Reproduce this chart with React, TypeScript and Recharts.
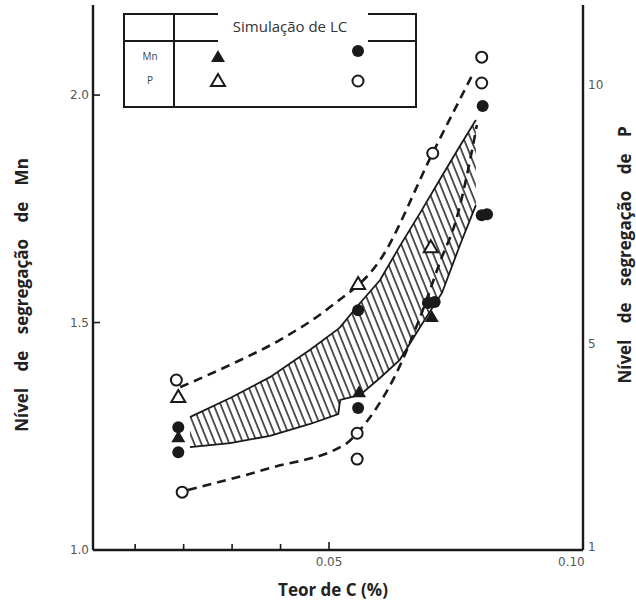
import React from 'react';
import {
  ComposedChart,
  Area,
  Line,
  Scatter,
  XAxis,
  YAxis,
  Label,
} from 'recharts';

// carbon content ticks (%)
const xTicks = [0.01, 0.02, 0.03, 0.04, 0.05, 0.1];
const mnTicks = [1.0, 1.5, 2.0];
const pTicks = [1, 5, 10];

// Mn segregation (left axis)
const mnCircles = [
  { x: 0.0189, y: 1.27 },
  { x: 0.0189, y: 1.215 },
  { x: 0.056, y: 1.527 },
  { x: 0.056, y: 1.312 },
  { x: 0.0704, y: 1.543 },
  { x: 0.0718, y: 1.545 },
  { x: 0.0815, y: 1.736 },
  { x: 0.0826, y: 1.738 },
  { x: 0.0817, y: 1.976 },
];
const mnTriangles = [
  { x: 0.0189, y: 1.248 },
  { x: 0.0562, y: 1.347 },
  { x: 0.0712, y: 1.512 },
];

// P segregation (right axis)
const pCircles = [
  { x: 0.0185, y: 4.29 },
  { x: 0.0197, y: 2.12 },
  { x: 0.0558, y: 3.26 },
  { x: 0.0558, y: 2.76 },
  { x: 0.0714, y: 8.68 },
  { x: 0.0815, y: 10.54 },
  { x: 0.0815, y: 10.04 },
];
const pTriangles = [
  { x: 0.0189, y: 3.96 },
  { x: 0.056, y: 6.15 },
  { x: 0.071, y: 6.86 },
];

// hatched band (simulation range, Mn units)
const band = [
  { x: 0.0213, lo: 1.226, hi: 1.292 },
  { x: 0.0296, lo: 1.235, hi: 1.334 },
  { x: 0.0378, lo: 1.251, hi: 1.38 },
  { x: 0.0461, lo: 1.277, hi: 1.44 },
  { x: 0.0519, lo: 1.299, hi: 1.486 },
  { x: 0.0523, lo: 1.33, hi: 1.49 },
  { x: 0.0564, lo: 1.341, hi: 1.543 },
  { x: 0.0605, lo: 1.378, hi: 1.593 },
  { x: 0.0646, lo: 1.418, hi: 1.668 },
  { x: 0.0688, lo: 1.49, hi: 1.741 },
  { x: 0.0733, lo: 1.565, hi: 1.822 },
  { x: 0.077, lo: 1.67, hi: 1.888 },
  { x: 0.0803, lo: 1.758, hi: 1.945 },
];

// dashed envelopes
const upperDash = [
  { x: 0.0193, y: 1.358 },
  { x: 0.0296, y: 1.407 },
  { x: 0.0399, y: 1.462 },
  { x: 0.0502, y: 1.534 },
  { x: 0.0605, y: 1.637 },
  { x: 0.0714, y: 1.873 },
  { x: 0.0799, y: 2.051 },
];
const lowerDash = [
  { x: 0.0209, y: 1.132 },
  { x: 0.0378, y: 1.18 },
  { x: 0.0537, y: 1.235 },
  { x: 0.0558, y: 1.257 },
  { x: 0.0599, y: 1.314 },
  { x: 0.0632, y: 1.374 },
  { x: 0.0688, y: 1.512 },
  { x: 0.0729, y: 1.633 },
  { x: 0.0764, y: 1.732 },
  { x: 0.0791, y: 1.857 },
  { x: 0.0805, y: 1.934 },
];

const INK = '#1a1a1a';
const TICK_FONT = 'DejaVu Sans';
const TITLE_FONT = 'Open Sans';

const FilledCircle = (p: any) => <circle cx={p.cx} cy={p.cy} r={6} fill={INK} />;
const OpenCircle = (p: any) => (
  <circle cx={p.cx} cy={p.cy} r={5.5} fill="#fff" stroke={INK} strokeWidth={2} />
);
const triPts = (cx: number, cy: number) =>
  `${cx},${cy - 7} ${cx - 7},${cy + 5} ${cx + 7},${cy + 5}`;
const FilledTriangle = (p: any) => <polygon points={triPts(p.cx, p.cy)} fill={INK} />;
const OpenTriangle = (p: any) => (
  <polygon points={triPts(p.cx, p.cy)} fill="#fff" stroke={INK} strokeWidth={2} />
);

const XTick = ({ x, y, payload }: any) => {
  const v = payload.value;
  const label = v === 0.05 ? '0.05' : v === 0.1 ? '0.10' : '';
  return (
    <g>
      {v < 0.06 && <line x1={x} y1={y} x2={x} y2={y - (v === 0.05 ? 8 : 6)} stroke={INK} strokeWidth={1.6} />}
      <text x={x} y={y + 16} textAnchor="middle" fontSize={12} fontFamily={TICK_FONT} fill="#555">
        {label}
      </text>
    </g>
  );
};

const LeftTick = ({ x, y, payload }: any) => (
  <g>
    {payload.value > 1 && <line x1={x} y1={y} x2={x + 7} y2={y} stroke={INK} strokeWidth={1.6} />}
    <text x={x - 4} y={y} dy="0.35em" textAnchor="end" fontSize={12} fontFamily={TICK_FONT} fill="#555">
      {payload.value.toFixed(1)}
    </text>
  </g>
);

const RightTick = ({ x, y, payload }: any) => (
  <text x={x + 5} y={y} dy={payload.value === 1 ? '0.1em' : '0.35em'} textAnchor="start" fontSize={12} fontFamily={TICK_FONT} fill="#555">
    {payload.value}
  </text>
);

const LegendTable = () => (
  <svg width={636} height={603} style={{ position: 'absolute', left: 0, top: 0, pointerEvents: 'none' }}>
    <rect x={124} y={14} width={292} height={93} fill="#fff" stroke={INK} strokeWidth={2} />
    <line x1={174} y1={14} x2={174} y2={107} stroke={INK} strokeWidth={2} />
    <line x1={124} y1={41} x2={416} y2={41} stroke={INK} strokeWidth={2} />
    <rect x={218} y={9} width={150} height={36} fill="#fff" />
    <text x={290} y={27} dy="0.35em" textAnchor="middle" fontSize={15} fontFamily={TITLE_FONT} fill="#333">
      Simulação de LC
    </text>
    <text x={150} y={56} dy="0.35em" textAnchor="middle" fontSize={10} fontFamily={TITLE_FONT} fill="#444">
      Mn
    </text>
    <text x={150} y={80} dy="0.35em" textAnchor="middle" fontSize={10} fontFamily={TITLE_FONT} fill="#444">
      P
    </text>
    <FilledTriangle cx={218} cy={57} />
    <OpenTriangle cx={218} cy={81} />
    <FilledCircle cx={358} cy={51} />
    <OpenCircle cx={358} cy={81} />
  </svg>
);

const sideTitle = (text: string, x: number, y: number) => (
  <text
    x={x}
    y={y}
    dy="0.35em"
    textAnchor="middle"
    transform={`rotate(-90 ${x} ${y})`}
    fontSize={17}
    fontWeight="bold"
    fontFamily={TITLE_FONT}
    fill="#222"
    wordSpacing={12}
  >
    {text}
  </text>
);

export default function App() {
  return (
    <div style={{ position: 'absolute', left: 0, top: 0, width: 636, height: 603, background: '#fff' }}>
      <svg width={0} height={0} style={{ position: 'absolute' }}>
        <defs>
          <pattern id="hatch" patternUnits="userSpaceOnUse" width={6.5} height={6.5} patternTransform="rotate(-22)">
            <line x1={1} y1={0} x2={1} y2={6.5} stroke="#111" strokeWidth={1.4} />
          </pattern>
        </defs>
      </svg>
      <ComposedChart
        width={636}
        height={603}
        data={band}
        margin={{ top: 5, right: 23, bottom: 23, left: 43 }}
      >
        <XAxis
          xAxisId="bottom"
          dataKey="x"
          type="number"
          domain={[0.0013, 0.1024]}
          ticks={xTicks}
          interval={0}
          allowDataOverflow
          height={30}
          tickSize={0}
          tickMargin={0}
          tick={<XTick />}
          axisLine={{ stroke: INK, strokeWidth: 2.4 }}
        >
          <Label
            content={() => (
              <text x={333} y={590} dy="0.35em" textAnchor="middle" fontSize={17} fontWeight="bold" fontFamily={TITLE_FONT} fill="#222">
                Teor de C (%)
              </text>
            )}
          />
        </XAxis>
        <XAxis
          xAxisId="top"
          orientation="top"
          dataKey="x"
          type="number"
          domain={[0.0013, 0.1024]}
          allowDataOverflow
          height={0}
          tick={false}
          tickLine={false}
          axisLine={{ stroke: INK, strokeWidth: 2.4 }}
        />
        <YAxis
          yAxisId="left"
          dataKey="y"
          type="number"
          domain={[1, 2.198]}
          ticks={mnTicks}
          interval={0}
          allowDataOverflow
          width={50}
          tickSize={0}
          tickMargin={0}
          tick={<LeftTick />}
          axisLine={{ stroke: INK, strokeWidth: 2.4 }}
        >
          <Label content={() => sideTitle('Nível de segregação de Mn', 22, 295)} />
        </YAxis>
        <YAxis
          yAxisId="right"
          orientation="right"
          dataKey="y"
          type="number"
          domain={[1, 11.55]}
          ticks={pTicks}
          interval={0}
          allowDataOverflow
          width={30}
          tickSize={0}
          tickMargin={0}
          tickLine={false}
          tick={<RightTick />}
          axisLine={{ stroke: INK, strokeWidth: 2.4 }}
        >
          <Label content={() => sideTitle('Nível de segregação de P', 625, 255)} />
        </YAxis>

        <Area
          xAxisId="bottom"
          yAxisId="left"
          type="linear"
          dataKey={(d: any) => [d.lo, d.hi]}
          stroke={INK}
          strokeWidth={1.8}
          fill="url(#hatch)"
          fillOpacity={1}
          dot={false}
          activeDot={false}
          isAnimationActive={false}
        />
        <Line
          xAxisId="bottom"
          yAxisId="left"
          data={upperDash}
          dataKey="y"
          type="monotone"
          stroke={INK}
          strokeWidth={2.6}
          strokeDasharray="9 6"
          dot={false}
          activeDot={false}
          isAnimationActive={false}
        />
        <Line
          xAxisId="bottom"
          yAxisId="left"
          data={lowerDash}
          dataKey="y"
          type="monotone"
          stroke={INK}
          strokeWidth={2.6}
          strokeDasharray="9 6"
          dot={false}
          activeDot={false}
          isAnimationActive={false}
        />
        <Scatter xAxisId="bottom" yAxisId="left" data={mnCircles} dataKey="y" shape={FilledCircle} isAnimationActive={false} />
        <Scatter xAxisId="bottom" yAxisId="left" data={mnTriangles} dataKey="y" shape={FilledTriangle} isAnimationActive={false} />
        <Scatter xAxisId="bottom" yAxisId="right" data={pCircles} dataKey="y" shape={OpenCircle} isAnimationActive={false} />
        <Scatter xAxisId="bottom" yAxisId="right" data={pTriangles} dataKey="y" shape={OpenTriangle} isAnimationActive={false} />
      </ComposedChart>
      <LegendTable />
    </div>
  );
}
